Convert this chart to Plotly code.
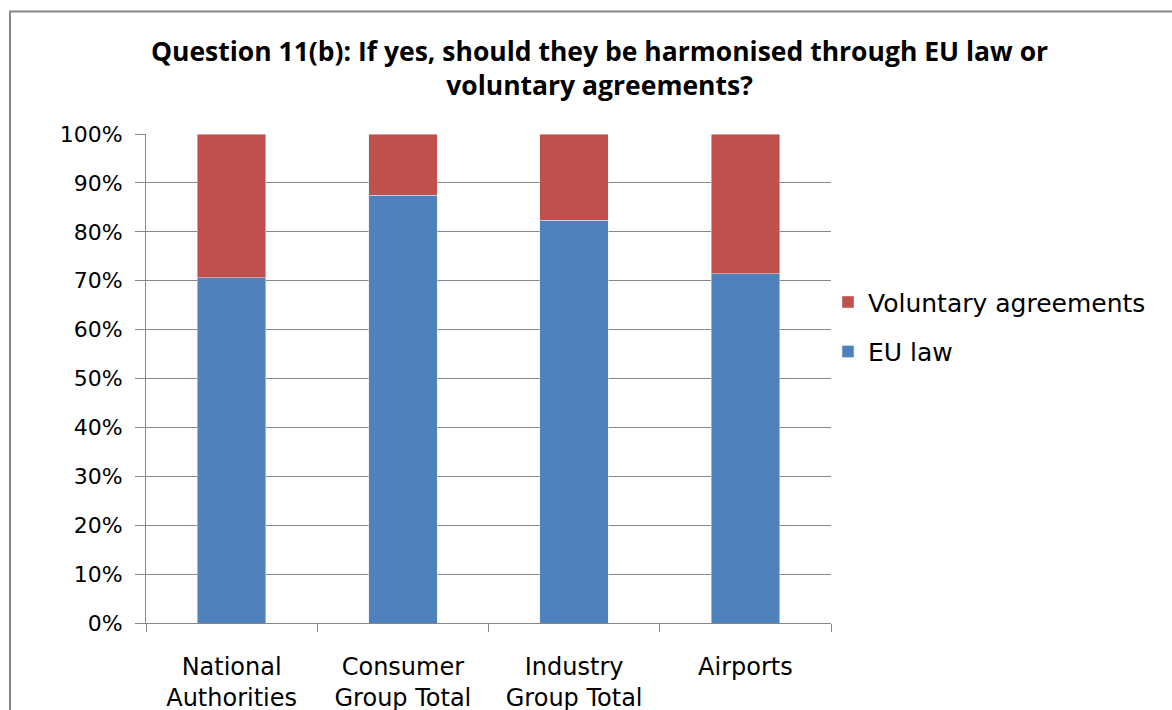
import plotly.graph_objects as go

# Response shares per respondent group (percent of answers)
categories = ["National<br>Authorities", "Consumer<br>Group Total", "Industry<br>Group Total", "Airports"]
eu_law = [70.6, 87.5, 82.4, 71.4]
voluntary = [29.4, 12.5, 17.6, 28.6]
y_ticks = [0, 10, 20, 30, 40, 50, 60, 70, 80, 90, 100]
y_tick_labels = [f"{v}%" for v in y_ticks]

BLUE = "#4F81BD"
RED = "#C0504D"
GRID = "#868686"
FONT = "'DejaVu Sans', sans-serif"

fig = go.Figure()
fig.add_trace(go.Bar(x=categories, y=eu_law, name="EU law", marker_color=BLUE,
                     width=0.4, legendgroup="a", legendrank=2))
fig.add_trace(go.Bar(x=categories, y=voluntary, name="Voluntary agreements", marker_color=RED,
                     width=0.4, legendgroup="b", legendrank=1))

fig.update_layout(
    barmode="stack",
    width=1172, height=710,
    margin=dict(l=146, r=341, t=134, b=87, autoexpand=False),
    paper_bgcolor="white", plot_bgcolor="white",
    font=dict(family=FONT, color="black"),
    title=dict(
        text="<b>Question 11(b): If yes, should they be harmonised through EU law or<br>voluntary agreements?</b>",
        x=599.5 / 1172, xanchor="center", y=1 - 61 / 710, yanchor="middle",
        font=dict(size=26.5, family="'Open Sans', sans-serif", color="black"),
    ),
    legend=dict(
        x=1.0 - 3 / 685, xanchor="left", y=0.703, yanchor="top",
        traceorder="grouped", tracegroupgap=14,
        font=dict(size=25, family=FONT),
        bgcolor="rgba(0,0,0,0)",
    ),
    showlegend=True,
    bargap=0.6,
)

fig.update_xaxes(
    type="category", range=[-0.5, 3.5],
    showline=True, linecolor=GRID, linewidth=1,
    ticks="outside", tickson="boundaries", ticklen=8, tickcolor=GRID,
    tickfont=dict(size=24, family=FONT),
    ticklabelstandoff=22,
    showgrid=False, automargin=False,
)
fig.update_yaxes(
    range=[0, 100], tickvals=y_ticks, ticktext=y_tick_labels,
    showline=True, linecolor=GRID, linewidth=1,
    ticks="outside", ticklen=10, tickcolor=GRID,
    showgrid=True, gridcolor=GRID, gridwidth=1,
    tickfont=dict(size=22, family=FONT),
    ticklabelstandoff=8,
    zeroline=False, automargin=False,
)

# Outer chart border
fig.add_shape(type="rect", xref="paper", yref="paper",
              x0=(10 - 146) / 685, x1=1.52, y0=-0.3, y1=(623.3 - 11) / 489.6,
              line=dict(color=GRID, width=2), fillcolor="rgba(0,0,0,0)", layer="below")

fig.write_html("out.html")
